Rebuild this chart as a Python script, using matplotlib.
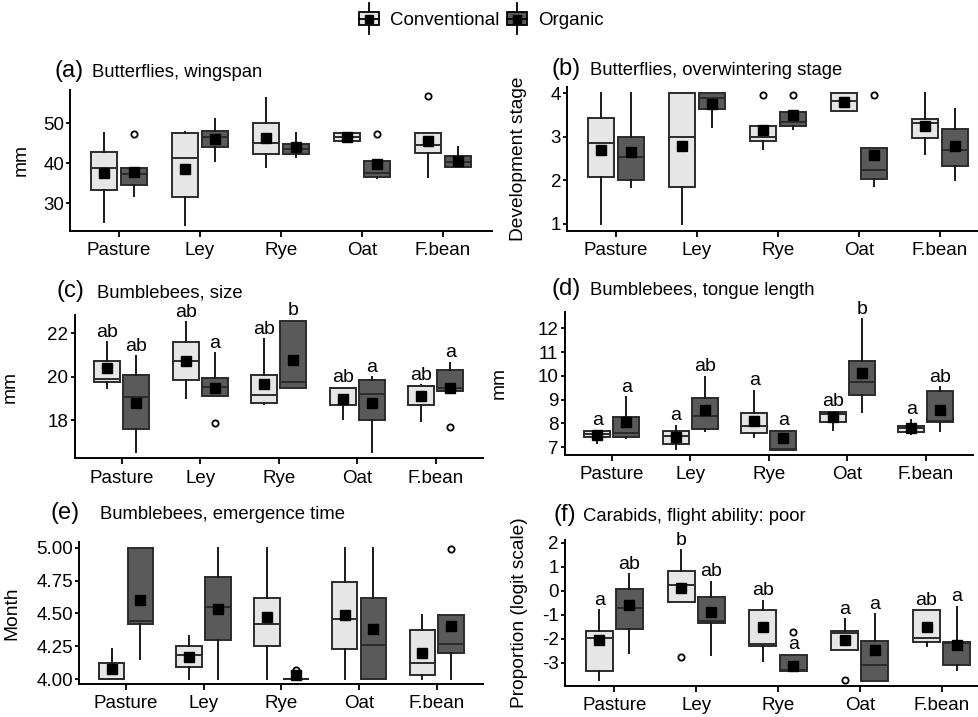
import matplotlib
matplotlib.use("Agg")
import matplotlib.pyplot as plt
from matplotlib.legend_handler import HandlerBase
from matplotlib.patches import Patch, Rectangle
from matplotlib.lines import Line2D
from matplotlib.ticker import FormatStrFormatter

plt.rcParams['font.family'] = ['Liberation Sans', 'DejaVu Sans']
plt.rcParams['axes.unicode_minus'] = False

crops = ['Pasture', 'Ley', 'Rye', 'Oat', 'F.bean']

# box stats per crop: (whisker low, q1, median, q3, whisker high)
# (a) Butterflies, wingspan
a_conv = [(25.4, 33.3, 38.75, 42.9, 47.7), (24.6, 31.5, 41.25, 47.5, 47.9), (39.0, 42.3, 45.2, 50.0, 56.4),
          (45.7, 45.7, 46.5, 47.7, 47.7), (36.7, 42.7, 44.6, 47.7, 47.7)]
a_conv_mean = [37.7, 38.5, 46.4, 46.5, 45.6]
a_conv_out = [[], [], [], [], [56.8]]
a_org = [(31.9, 34.6, 37.3, 38.75, 38.75), (40.6, 44.2, 46.7, 48.2, 51.0), (41.5, 42.25, 43.5, 44.75, 47.5),
         (36.25, 36.5, 37.5, 40.6, 40.6), (39.0, 39.0, 40.4, 41.8, 44.0)]
a_org_mean = [37.75, 46.1, 44.0, 39.75, 40.6]
a_org_out = [[47.3], [], [], [47.3], []]

# (b) Butterflies, overwintering stage
b_conv = [(1.0, 2.09, 2.85, 3.43, 4.0), (1.0, 1.84, 3.0, 4.0, 4.0), (2.72, 2.91, 3.0, 3.26, 3.26),
          (3.6, 3.6, 3.83, 4.0, 4.0), (2.61, 2.98, 3.33, 3.4, 4.0)]
b_conv_mean = [2.7, 2.78, 3.15, 3.8, 3.25]
b_conv_out = [[], [], [3.97], [], []]
b_org = [(1.86, 2.0, 2.53, 3.0, 4.0), (3.22, 3.63, 3.9, 4.0, 4.0), (3.18, 3.25, 3.35, 3.58, 3.58),
         (1.88, 2.04, 2.23, 2.74, 2.74), (2.0, 2.34, 2.7, 3.18, 3.63)]
b_org_mean = [2.66, 3.75, 3.5, 2.59, 2.78]
b_org_out = [[], [], [3.97], [3.97], []]

# (c) Bumblebees, size
c_conv = [(19.5, 19.74, 19.89, 20.72, 21.58), (19.0, 19.85, 20.72, 21.6, 22.5), (18.74, 18.8, 19.15, 20.1, 21.72),
          (18.03, 18.7, 19.46, 19.5, 19.5), (17.97, 18.7, 19.58, 19.58, 19.6)]
c_conv_mean = [20.38, 20.72, 19.66, 18.97, 19.12]
c_conv_out = [[], [], [], [], []]
c_org = [(16.54, 17.57, 19.08, 20.1, 20.95), (19.12, 19.12, 19.54, 19.92, 21.08), (19.46, 19.46, 19.77, 22.57, 22.57),
         (16.54, 18.0, 19.2, 19.85, 19.97), (19.34, 19.34, 19.5, 20.3, 20.65)]
c_org_mean = [18.8, 19.5, 20.77, 18.77, 19.49]
c_org_out = [[], [17.85], [], [], [17.7]]
c_conv_let = ['ab', 'ab', 'ab', 'ab', 'ab']
c_org_let = ['ab', 'a', 'b', 'a', 'a']

# (d) Bumblebees, tongue length
d_conv = [(7.17, 7.45, 7.56, 7.7, 7.7), (6.93, 7.13, 7.48, 7.7, 7.91), (7.45, 7.59, 7.91, 8.43, 9.37),
          (7.73, 8.08, 8.4, 8.5, 8.5), (7.56, 7.66, 7.8, 7.91, 8.15)]
d_conv_mean = [7.52, 7.42, 8.12, 8.26, 7.83]
d_conv_out = [[], [], [], [], []]
d_org = [(7.38, 7.45, 7.62, 8.26, 9.1), (7.7, 7.77, 8.32, 9.06, 9.97), (6.89, 6.89, 6.92, 7.7, 7.7),
         (8.5, 9.2, 9.76, 10.64, 12.38), (7.7, 8.08, 8.1, 9.37, 9.52)]
d_org_mean = [8.08, 8.57, 7.38, 10.1, 8.57]
d_org_out = [[], [], [], [], []]
d_conv_let = ['a', 'a', 'a', 'ab', 'a']
d_org_let = ['a', 'ab', 'a', 'b', 'ab']

# (e) Bumblebees, emergence time
e_conv = [(4.0, 4.0, 4.0, 4.12, 4.23), (4.0, 4.09, 4.18, 4.25, 4.33), (4.0, 4.25, 4.42, 4.62, 5.0),
          (4.0, 4.23, 4.46, 4.74, 5.0), (4.0, 4.03, 4.12, 4.37, 4.49)]
e_conv_mean = [4.08, 4.17, 4.47, 4.49, 4.2]
e_conv_out = [[], [], [], [], []]
e_org = [(4.15, 4.42, 4.44, 5.0, 5.0), (4.0, 4.3, 4.55, 4.78, 5.0), (4.0, 4.0, 4.0, 4.0, 4.0),
         (4.0, 4.0, 4.26, 4.62, 5.0), (4.0, 4.2, 4.27, 4.49, 4.49)]
e_org_mean = [4.6, 4.53, 4.03, 4.38, 4.4]
e_org_out = [[], [], [4.07], [], [4.99]]

# (f) Carabids, flight ability: poor
f_conv = [(-3.72, -3.35, -1.96, -1.68, -0.81), (-0.49, -0.49, 0.24, 0.83, 1.69), (-2.92, -2.29, -2.22, -0.81, -0.42),
          (-2.47, -2.47, -1.78, -1.68, -1.19), (-2.29, -2.15, -1.99, -0.81, -0.81)]
f_conv_mean = [-2.06, 0.1, -1.5, -2.06, -1.53]
f_conv_out = [[], [-2.75], [], [-3.72], []]
f_org = [(-2.61, -1.6, -0.74, 0.06, 0.69), (-2.68, -1.36, -1.25, -0.25, 0.38), (-3.35, -3.35, -3.3, -2.68, -2.68),
         (-3.75, -3.75, -3.1, -2.08, -0.99), (-3.31, -3.1, -2.2, -2.15, -0.67)]
f_org_mean = [-0.6, -0.88, -3.13, -2.47, -2.26]
f_org_out = [[], [], [-1.71], [], []]
f_conv_let = ['a', 'b', 'ab', 'a', 'ab']
f_org_let = ['ab', 'ab', 'a', 'a', 'a']

CONV_FILL = '#e6e6e6'
ORG_FILL = '#5a5a5a'
EDGE = '#2b2b2b'
W, H = 979, 717

fig = plt.figure(figsize=(W / 100, H / 100), dpi=100)


def px_axes(l, t, r, b):
    return fig.add_axes([l / W, 1 - b / H, (r - l) / W, (b - t) / H])


def draw_group(ax, pos, stats, means, outs, fill):
    bx = []
    for s, m, o in zip(stats, means, outs):
        bx.append(dict(whislo=s[0], q1=s[1], med=s[2], q3=s[3], whishi=s[4], mean=m, fliers=o))
    ax.bxp(bx, positions=pos, widths=0.33, patch_artist=True, showmeans=True, showcaps=False,
           boxprops=dict(facecolor=fill, edgecolor=EDGE, linewidth=1.4),
           medianprops=dict(color=EDGE, linewidth=1.4),
           whiskerprops=dict(color='#1a1a1a', linewidth=1.4),
           meanprops=dict(marker='s', markerfacecolor='black', markeredgecolor='black', markersize=6.8),
           flierprops=dict(marker='o', markerfacecolor='white', markeredgecolor='black', markersize=4.5,
                           markeredgewidth=1.3))


def letters(ax, pos, stats, labs):
    for x, s, lab in zip(pos, stats, labs):
        ax.annotate(lab, (x, s[4]), xytext=(0, 4), textcoords='offset points',
                    ha='center', va='baseline', fontsize=14)


def panel(rect, conv, conv_mean, conv_out, org, org_mean, org_out, ylim, yticks,
          ylabel, label_px, tag, title, tag_px, title_px, base_y,
          conv_let=None, org_let=None, fmt=None):
    ax = px_axes(*rect)
    xs = range(1, len(crops) + 1)
    pc = [x - 0.185 for x in xs]
    po = [x + 0.185 for x in xs]
    draw_group(ax, pc, conv, conv_mean, conv_out, CONV_FILL)
    draw_group(ax, po, org, org_mean, org_out, ORG_FILL)
    if conv_let:
        letters(ax, pc, conv, conv_let)
        letters(ax, po, org, org_let)
    ax.set_xlim(0.4, 5.6)
    ax.set_ylim(*ylim)
    ax.set_xticks(list(xs))
    ax.set_xticklabels(crops, fontsize=13.5)
    ax.set_yticks(yticks)
    if fmt:
        ax.yaxis.set_major_formatter(FormatStrFormatter(fmt))
    ax.tick_params(axis='y', labelsize=13.5, length=3, width=1.3, pad=1.5)
    ax.tick_params(axis='x', length=4, width=1.3, pad=4)
    for sp in ['top', 'right']:
        ax.spines[sp].set_visible(False)
    for sp in ['left', 'bottom']:
        ax.spines[sp].set_linewidth(1.4)
    ax.set_ylabel(ylabel, fontsize=13.8)
    ax.yaxis.set_label_coords((label_px - rect[0]) / (rect[2] - rect[0]), 0.5)
    fig.text(tag_px / W, 1 - base_y / H, tag, fontsize=17, va='baseline')
    fig.text(title_px / W, 1 - base_y / H, title, fontsize=13.3, va='baseline')
    return ax


panel((70.4, 89.7, 491.6, 231.3), a_conv, a_conv_mean, a_conv_out, a_org, a_org_mean, a_org_out,
      (23.0, 58.4), [30, 40, 50], 'mm', 30, '(a)', 'Butterflies, wingspan', 55, 92, 77)
panel((567.4, 86.8, 988.6, 230.5), b_conv, b_conv_mean, b_conv_out, b_org, b_org_mean, b_org_out,
      (0.85, 4.15), [1, 2, 3, 4], 'Development stage', 527, '(b)', 'Butterflies, overwintering stage',
      552, 590, 75)
panel((74.6, 314.9, 482.8, 458.4), c_conv, c_conv_mean, c_conv_out, c_org, c_org_mean, c_org_out,
      (16.23, 22.85), [18, 20, 22], 'mm', 19, '(c)', 'Bumblebees, size', 57, 97, 297,
      c_conv_let, c_org_let)
panel((564.6, 311.6, 972.8, 454.9), d_conv, d_conv_mean, d_conv_out, d_org, d_org_mean, d_org_out,
      (6.68, 12.7), [7, 8, 9, 10, 11, 12], 'mm', 508, '(d)', 'Bumblebees, tongue length', 552, 590, 295,
      d_conv_let, d_org_let)
panel((79.4, 542.4, 483.3, 684.3), e_conv, e_conv_mean, e_conv_out, e_org, e_org_mean, e_org_out,
      (3.96, 5.04), [4.0, 4.25, 4.5, 4.75, 5.0], 'Month', 20, '(e)', 'Bumblebees, emergence time',
      51, 100, 519, fmt='%.2f')
panel((565.2, 540.3, 990.8, 685.7), f_conv, f_conv_mean, f_conv_out, f_org, f_org_mean, f_org_out,
      (-3.96, 2.1), [-3, -2, -1, 0, 1, 2], 'Proportion (logit scale)', 528, '(f)',
      'Carabids, flight ability: poor', 554, 583, 521, f_conv_let, f_org_let)


class BoxKey(HandlerBase):
    def create_artists(self, legend, orig_handle, xdescent, ydescent, width, height, fontsize, trans):
        cx = width / 2 - xdescent
        cy = height / 2 - ydescent
        bw, bh = width * 0.95, height * 0.8
        whisk = Line2D([cx, cx], [cy - height * 0.95, cy + height * 0.95], color='black', lw=1.3, transform=trans)
        box = Rectangle((cx - bw / 2, cy - bh / 2), bw, bh, facecolor=orig_handle.get_facecolor(),
                        edgecolor='black', lw=1.3, transform=trans)
        med = Line2D([cx - bw / 2, cx + bw / 2], [cy, cy], color='black', lw=1.3, transform=trans)
        mean = Line2D([cx], [cy], marker='s', color='black', markersize=5.5, transform=trans)
        return [whisk, box, med, mean]


handles = [Patch(facecolor=CONV_FILL), Patch(facecolor=ORG_FILL)]
fig.legend(handles, ['Conventional', 'Organic'], loc='center', bbox_to_anchor=(481 / W, 1 - 20 / H),
           ncol=2, frameon=False, fontsize=13.5, handler_map={Patch: BoxKey()},
           handlelength=1.15, handleheight=0.95, handletextpad=0.55, columnspacing=0.35)

fig.savefig('out.png', dpi=100)
